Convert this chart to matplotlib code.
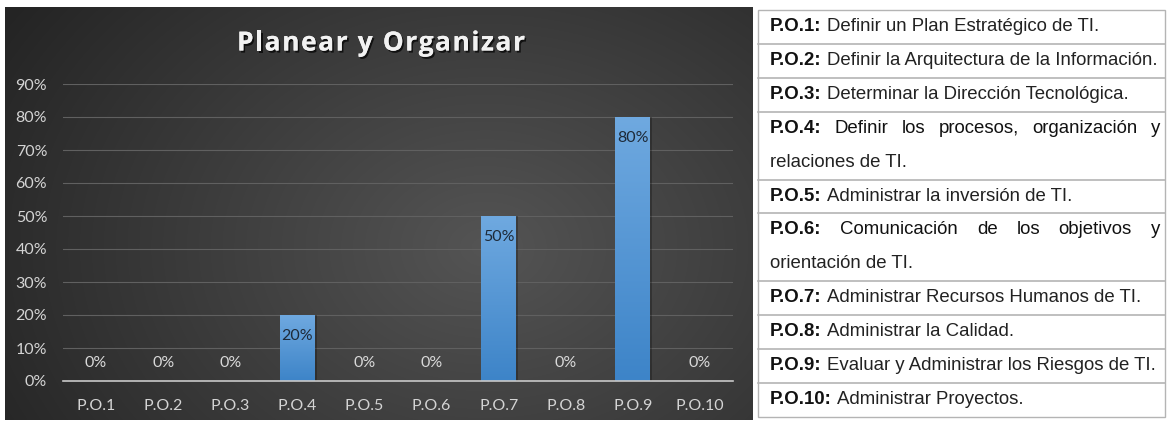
import numpy as np
import matplotlib
matplotlib.use("Agg")
import matplotlib.pyplot as plt
import matplotlib.patheffects as pe
from matplotlib.colors import LinearSegmentedColormap

# ---------------- data ----------------
categories = ["P.O.1", "P.O.2", "P.O.3", "P.O.4", "P.O.5",
              "P.O.6", "P.O.7", "P.O.8", "P.O.9", "P.O.10"]
values = [0.0, 0.0, 0.0, 0.20, 0.0, 0.0, 0.50, 0.0, 0.80, 0.0]
y_ticks = [0.0, 0.1, 0.2, 0.3, 0.4, 0.5, 0.6, 0.7, 0.8, 0.9]
title = "Planear y Organizar"

codes = ["P.O.1:", "P.O.2:", "P.O.3:", "P.O.4:", "P.O.5:",
         "P.O.6:", "P.O.7:", "P.O.8:", "P.O.9:", "P.O.10:"]
descriptions = [
    ["Definir un Plan Estratégico de TI."],
    ["Definir la Arquitectura de la Información."],
    ["Determinar la Dirección Tecnológica."],
    ["Definir los procesos, organización y", "relaciones de TI."],
    ["Administrar la inversión de TI."],
    ["Comunicación de los objetivos y", "orientación de TI."],
    ["Administrar Recursos Humanos de TI."],
    ["Administrar la Calidad."],
    ["Evaluar y Administrar los Riesgos de TI."],
    ["Administrar Proyectos."],
]

# ---------------- figure ----------------
W, H = 1167, 421
fig = plt.figure(figsize=(W / 100, H / 100), dpi=100)
fig.patch.set_facecolor("white")

overlay = fig.add_axes([0, 0, 1, 1], zorder=0)
overlay.set_xlim(0, W)
overlay.set_ylim(H, 0)
overlay.axis("off")

# chart background (radial dark gradient)
cx0, cy0, cx1, cy1 = 5, 7, 753, 420
bw, bh = cx1 - cx0, cy1 - cy0
yy, xx = np.mgrid[0:bh, 0:bw]
d = np.sqrt(((xx - 480) / 560.0) ** 2 + ((yy - 240) / 420.0) ** 2)
d = np.clip(d, 0, 1)
g = 0.33 * (1 - d) + 0.145 * d
img = np.dstack([g, g, g])
overlay.imshow(img, extent=(cx0, cx1, cy1, cy0), origin="upper",
               aspect="auto", interpolation="bilinear", zorder=0)

# title with slight letter spacing
title_fs = 19
title_kw = dict(fontsize=title_fs, fontweight="bold", family="Open Sans")
renderer = fig.canvas.get_renderer()


def text_w(ax_, s, **kw):
    t = ax_.text(0, 0, s, **kw)
    w = t.get_window_extent(renderer).width
    t.remove()
    return w


track = 1.6
char_ws = []
for i in range(len(title)):
    char_ws.append(text_w(overlay, title[:i + 1], **title_kw))
total_w = char_ws[-1] + track * (len(title) - 1)
tx = (cx0 + cx1) / 2 - total_w / 2 + 2
shadow = [pe.withSimplePatchShadow(offset=(1.2, -1.5), shadow_rgbFace="black",
                                   alpha=0.7), pe.Normal()]
for i, ch in enumerate(title):
    start = (char_ws[i - 1] if i > 0 else 0) + track * i
    if ch == " ":
        continue
    overlay.text(tx + start, 43, ch, ha="left", va="center", color="#f2f2f2",
                 path_effects=shadow, zorder=2, **title_kw)

# ---------------- bar chart ----------------
ax_left, ax_right = 62.5, 733.5
ax_top, ax_bottom = 84, 381
ax = fig.add_axes([ax_left / W, (H - ax_bottom) / H,
                   (ax_right - ax_left) / W, (ax_bottom - ax_top) / H],
                  zorder=1)
ax.patch.set_alpha(0)
x = np.arange(len(categories))
bar_w = 0.52
bars = ax.bar(x, values, width=bar_w, color="none", edgecolor="none")

grad_cmap = LinearSegmentedColormap.from_list("bar", ["#3d84c8", "#6fa9e0"])
grad = np.linspace(0, 1, 256).reshape(-1, 1)
for rect, v in zip(bars, values):
    if v <= 0:
        continue
    x0 = rect.get_x()
    ax.add_patch(plt.Rectangle((x0 + 0.03, 0), rect.get_width(), v,
                               facecolor="black", alpha=0.25,
                               edgecolor="none", zorder=1.5))
    im = ax.imshow(grad, extent=(x0, x0 + rect.get_width(), 0, v),
                   origin="lower", aspect="auto", cmap=grad_cmap, zorder=2)
    im.set_clip_path(rect)
    rect.set_visible(False)

ax.set_xlim(-0.5, len(categories) - 0.5)
ax.set_ylim(0, 0.9)
ax.set_xticks(x)
ax.set_xticklabels(categories)
ax.set_yticks(y_ticks)
ax.set_yticklabels([f"{t:.0%}" for t in y_ticks])
ax.tick_params(length=0, colors="#d4d4d4", labelsize=11.5)
ax.tick_params(axis="x", pad=13)
ax.tick_params(axis="y", pad=11)
for lab in ax.get_xticklabels() + ax.get_yticklabels():
    lab.set_family("Lato")
for s in ["top", "right", "left"]:
    ax.spines[s].set_visible(False)
ax.spines["bottom"].set_color("#c8c8c8")
ax.spines["bottom"].set_linewidth(1.2)
ax.spines["bottom"].set_zorder(3)
ax.yaxis.grid(True, color="#606060", linewidth=0.8)
ax.set_axisbelow(True)

for i, v in enumerate(values):
    if v == 0:
        ax.annotate(f"{v:.0%}", (i, v), xytext=(0, 13),
                    textcoords="offset points", ha="center", va="center",
                    color="#d9d9d9", fontsize=11.5, family="Lato", zorder=4)
    else:
        ax.annotate(f"{v:.0%}", (i, v), xytext=(0, -15),
                    textcoords="offset points", ha="center", va="center",
                    color="#1e2a38", fontsize=11.5, family="Lato", zorder=4)

# ---------------- description table ----------------
tx0, tx1 = 758, 1165
ty0, ty1 = 10, 417
n_lines = sum(len(dsc) for dsc in descriptions)
line_h = (ty1 - ty0) / n_lines
line_col = "#b4b4b4"
overlay.add_patch(plt.Rectangle((tx0, ty0), tx1 - tx0, ty1 - ty0,
                                facecolor="white", edgecolor=line_col,
                                linewidth=1.0, zorder=1))

fs = 13.4
fam = "Liberation Sans"


def width_of(s, weight="normal"):
    return text_w(overlay, s, fontsize=fs, family=fam, fontweight=weight)


space_w = width_of("x x") - width_of("xx")
text_left = 770
text_right = 1160

y = ty0
for ri, (code, lines) in enumerate(zip(codes, descriptions)):
    for li, line in enumerate(lines):
        yc = y + line_h * (li + 0.5) - 0.5
        justify = (li == 0 and len(lines) > 1)
        if li == 0:
            words = [(code, "bold")] + [(w_, "normal") for w_ in line.split()]
        else:
            words = [(w_, "normal") for w_ in line.split()]
        if justify:
            widths = [width_of(w_, wt) for w_, wt in words]
            gap = (text_right - text_left - sum(widths)) / (len(words) - 1)
            xx_ = text_left
            for (w_, wt), ww in zip(words, widths):
                overlay.text(xx_, yc, w_, fontsize=fs, family=fam,
                             fontweight=wt, ha="left", va="center",
                             color="#111111", zorder=3)
                xx_ += ww + gap
        else:
            xx_ = text_left
            if li == 0:
                overlay.text(xx_, yc, code, fontsize=fs, family=fam,
                             fontweight="bold", ha="left", va="center",
                             color="#111111", zorder=3)
                xx_ += width_of(code, "bold") + space_w
            overlay.text(xx_, yc, line, fontsize=fs, family=fam,
                         ha="left", va="center", color="#222222", zorder=3)
    y += line_h * len(lines)
    if ri < len(codes) - 1:
        overlay.plot([tx0, tx1], [y, y], color=line_col, lw=1.2, zorder=2)

fig.savefig("out.png", dpi=100, facecolor="white")
